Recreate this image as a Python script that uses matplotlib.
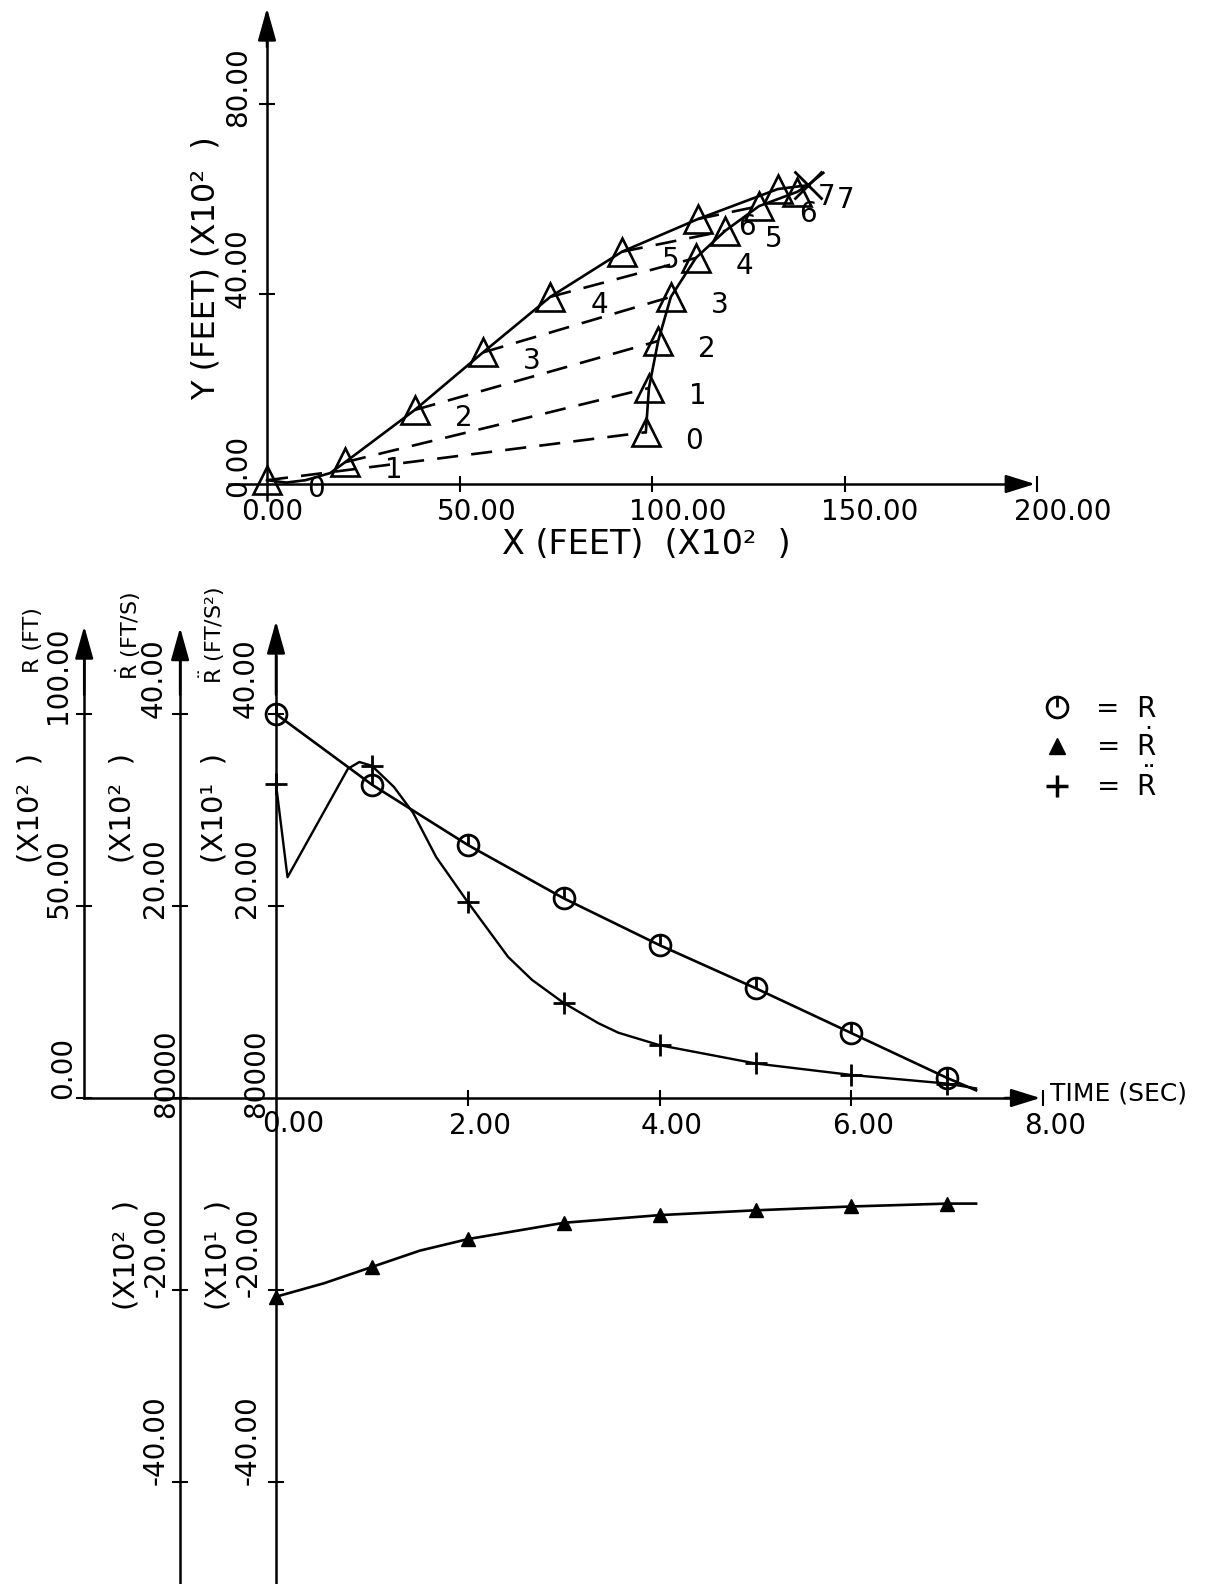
import matplotlib
matplotlib.use('Agg')
import matplotlib.pyplot as plt
from matplotlib.path import Path
from matplotlib.lines import Line2D

W, H = 1207, 1584
plt.rcParams['font.family'] = ['DejaVu Sans']
plt.rcParams['mathtext.fontset'] = 'dejavusans'

# ---------------- top chart data: X, Y in hundreds of feet ----------------
pursuer_x = [0.0, 20.3, 38.4, 56.1, 73.6, 92.2, 112.0, 132.7]
pursuer_y = [0.8, 4.6, 15.6, 27.7, 39.4, 48.9, 55.8, 62.1]
pursuer_path_x = [0.0, 5.0, 10.0, 16.4, 20.3, 38.4, 56.1, 73.6, 92.2, 112.0, 132.7, 140.5, 144.5]
pursuer_path_y = [0.8, 0.3, 0.8, 2.3, 4.6, 15.6, 27.7, 39.4, 48.9, 55.8, 62.1, 62.9, 65.5]
target_x = [98.4, 99.2, 101.6, 104.9, 111.4, 119.0, 127.8, 137.7]
target_y = [10.9, 20.2, 30.1, 39.4, 47.6, 53.3, 58.5, 61.5]
target_path_x = [98.4, 99.2, 101.6, 104.9, 111.4, 119.0, 127.8, 137.7, 140.5]
target_path_y = [10.9, 20.2, 30.1, 39.4, 47.6, 53.3, 58.5, 61.5, 62.9]
intercept_x = [140.5]
intercept_y = [62.9]
point_labels = ['0', '1', '2', '3', '4', '5', '6', '7']
top_xticks = [50, 100, 150, 200]
top_xticklabels = ['50.00', '100.00', '150.00', '200.00']
top_yticks = [40, 80]

# ---------------- bottom chart data ----------------
time = [0, 1, 2, 3, 4, 5, 6, 7]
range_r = [100.0, 81.6, 65.9, 52.0, 39.8, 28.6, 16.9, 5.2]          # R (X10^2 ft)
range_line_t = [0, 1, 2, 3, 4, 5, 6, 7, 7.3]
range_line_v = [100.0, 81.6, 65.9, 52.0, 39.8, 28.6, 16.9, 5.2, 2.0]
rdot = [-20.7, -17.6, -14.7, -13.0, -12.2, -11.7, -11.3, -11.0]      # Rdot (X10^2 ft/s)
rdot_line_t = [0, 0.5, 1, 1.5, 2, 3, 4, 5, 6, 7, 7.3]
rdot_line_v = [-20.7, -19.3, -17.6, -15.9, -14.7, -13.0, -12.2, -11.7, -11.3, -11.0, -11.0]
rddot = [32.7, 34.6, 20.4, 9.9, 5.5, 3.6, 2.4, 1.5]                  # Rddot (X10^1 ft/s^2)
rddot_line_t = [0, 0.12, 0.75, 0.87, 1, 1.23, 1.43, 1.67, 2, 2.42, 2.67, 3, 3.36, 3.57, 4, 5, 6, 7, 7.3]
rddot_line_v = [32.7, 23.0, 34.3, 35.0, 34.6, 32.4, 29.7, 25.1, 20.4, 14.7, 12.3, 9.9, 7.8, 6.8, 5.5,
                3.6, 2.4, 1.5, 1.0]
time_ticks = [2, 4, 6, 8]
time_ticklabels = ['2.00', '4.00', '6.00', '8.00']

fig = plt.figure(figsize=(W / 100, H / 100), dpi=100)
fig.patch.set_facecolor('white')

def fpos(x, y):
    return x / W, 1 - y / H

def ftext(x, y, s, **kw):
    fx, fy = fpos(x, y)
    kw.setdefault('ha', 'center')
    kw.setdefault('va', 'center')
    fig.text(fx, fy, s, **kw)

ALW = 1.8   # axis line width
DLW = 1.9   # data line width
TICKFS = 20
arrow_v = dict(arrowstyle='-|>,head_length=1.0,head_width=0.28', color='k', lw=ALW,
               mutation_scale=20, shrinkA=0, shrinkB=0)
arrow_h = dict(arrowstyle='-|>,head_length=0.9,head_width=0.28', color='k', lw=ALW,
               mutation_scale=20, shrinkA=0, shrinkB=0)

# ======================= TOP CHART =======================
# origin at pixel (267, 484); 3.85 px per X unit, 4.75 px per Y unit
x0, y0, sx, sy = 267, 484, 3.85, 4.75
xl = (-10, 200)
yl = ((y0 - 500) / sy, (y0 - 8) / sy)
left = x0 + xl[0] * sx
right = x0 + xl[1] * sx
ax_t = fig.add_axes([left / W, 1 - 500 / H, (right - left) / W, (500 - 8) / H])
ax_t.set_xlim(*xl)
ax_t.set_ylim(*yl)
ax_t.patch.set_alpha(0)
for s in ['top', 'right']:
    ax_t.spines[s].set_visible(False)
ax_t.spines['left'].set_position(('data', 0))
ax_t.spines['bottom'].set_position(('data', 0))
ax_t.spines['left'].set_bounds(yl[0], 95)
ax_t.spines['bottom'].set_bounds(xl[0], 195)
for s in ['left', 'bottom']:
    ax_t.spines[s].set_linewidth(ALW)
ax_t.set_xticks(top_xticks)
ax_t.set_yticks(top_yticks)
ax_t.tick_params(direction='inout', length=11, width=1.5, labelbottom=False, labelleft=False)
ax_t.annotate('', xy=(0, yl[1]), xytext=(0, 92), arrowprops=arrow_v, annotation_clip=False)
ax_t.annotate('', xy=(199.5, 0), xytext=(192, 0), arrowprops=arrow_h, annotation_clip=False)

# line-of-sight dashed lines
for i in range(7):
    ax_t.plot([pursuer_x[i], target_x[i]], [pursuer_y[i], target_y[i]], color='k',
              lw=1.9, ls=(0, (8, 5)), clip_on=False)
ax_t.plot(pursuer_path_x, pursuer_path_y, color='k', lw=DLW, clip_on=False)
ax_t.plot(target_path_x, target_path_y, color='k', lw=DLW, clip_on=False)
ax_t.plot(pursuer_x, pursuer_y, ls='none', marker='^', ms=20, mfc='none', mec='k', mew=1.9, clip_on=False)
ax_t.plot(target_x, target_y, ls='none', marker='^', ms=20, mfc='none', mec='k', mew=1.9, clip_on=False)
ax_t.plot(intercept_x, intercept_y, ls='none', marker='x', ms=20, mec='k', mew=2.0, clip_on=False)
for i, lab in enumerate(point_labels):
    ax_t.annotate(lab, (pursuer_x[i], pursuer_y[i]), xytext=(35, -6), textcoords='offset points',
                  ha='center', va='center', fontsize=TICKFS, annotation_clip=False)
    ax_t.annotate(lab, (target_x[i], target_y[i]), xytext=(35, -6), textcoords='offset points',
                  ha='center', va='center', fontsize=TICKFS, annotation_clip=False)

# tick labels (top)
ftext(272, 512, '0.00', fontsize=TICKFS)
for xv, lab in zip(top_xticks, top_xticklabels):
    ftext(x0 + xv * sx - 23, 512, lab, fontsize=TICKFS, ha='left')
ftext(238, 87, '80.00', fontsize=TICKFS, rotation=90)
ftext(238, 268, '40.00', fontsize=TICKFS, rotation=90)
ftext(238, 466, '0.00', fontsize=TICKFS, rotation=90)
ftext(206, 268, 'Y (FEET) (X10²  )', fontsize=23, rotation=90)
ftext(646, 545, 'X (FEET)  (X10²  )', fontsize=24)

# ======================= BOTTOM CHART =======================
t0px, tsc = 276, 95.9
ybase = 1098
sv, sr = 9.6, 3.84
top_px = 621
txl = (-2, 8)
bl = t0px + txl[0] * tsc
br = t0px + txl[1] * tsc
rect = [bl / W, 0, (br - bl) / W, (H - top_px) / H]
yl_v = ((ybase - H) / sv, (ybase - top_px) / sv)
yl_r = ((ybase - H) / sr, (ybase - top_px) / sr)

ax_b = fig.add_axes(rect)   # Rddot axis + time axis
ax_v = fig.add_axes(rect)   # Rdot axis
ax_r = fig.add_axes(rect)   # R axis
for a in (ax_b, ax_v, ax_r):
    a.set_xlim(*txl)
    a.patch.set_alpha(0)
    for s in ['top', 'right']:
        a.spines[s].set_visible(False)
    a.spines['left'].set_linewidth(ALW)
    a.spines['bottom'].set_linewidth(ALW)
ax_b.set_ylim(*yl_v)
ax_v.set_ylim(*yl_v)
ax_r.set_ylim(*yl_r)

ax_b.spines['left'].set_position(('data', 0))
ax_b.spines['bottom'].set_position(('data', 0))
ax_b.spines['bottom'].set_bounds(txl[0], 7.8)
ax_b.spines['left'].set_bounds(yl_v[0], 46)
ax_b.set_xticks(time_ticks)
ax_b.set_yticks([-40, -20, 20, 40])
ax_b.tick_params(direction='inout', length=11, width=1.5, labelbottom=False, labelleft=False)

ax_v.spines['bottom'].set_visible(False)
ax_v.spines['left'].set_position(('data', -1))
ax_v.spines['left'].set_bounds(yl_v[0], 45.5)
ax_v.set_xticks([])
ax_v.set_yticks([-40, -20, 0, 20, 40])
ax_v.tick_params(direction='inout', length=11, width=1.5, labelleft=False)

ax_r.spines['bottom'].set_visible(False)
ax_r.spines['left'].set_position(('data', -2))
ax_r.spines['left'].set_bounds(0, 114)
ax_r.set_xticks([])
ax_r.set_yticks([0, 50, 100])
ax_r.tick_params(direction='inout', length=11, width=1.5, labelleft=False)

ax_b.annotate('', xy=(0, yl_v[1]), xytext=(0, 42), arrowprops=arrow_v, annotation_clip=False)
ax_v.annotate('', xy=(-1, 49.0), xytext=(-1, 42), arrowprops=arrow_v, annotation_clip=False)
ax_r.annotate('', xy=(-2, 122.9), xytext=(-2, 105), arrowprops=arrow_v, annotation_clip=False)
ax_b.annotate('', xy=(7.97, 0), xytext=(7.6, 0), arrowprops=arrow_h, annotation_clip=False)

# data
circ_marker = Path.make_compound_path(Path.unit_circle(),
                                      Path([(0, 0), (0, 1)], [Path.MOVETO, Path.LINETO]))
ax_r.plot(range_line_t, range_line_v, color='k', lw=DLW, clip_on=False)
ax_r.plot(time, range_r, ls='none', marker=circ_marker, ms=15, mfc='none', mec='k', mew=2.0, clip_on=False)
ax_v.plot(rdot_line_t, rdot_line_v, color='k', lw=DLW, clip_on=False)
ax_v.plot(time, rdot, ls='none', marker='^', ms=10, color='k', clip_on=False)
ax_b.plot(rddot_line_t, rddot_line_v, color='k', lw=DLW * 0.9, clip_on=False)
ax_b.plot(time, rddot, ls='none', marker='+', ms=16, mew=2.0, color='k', clip_on=False)

# bottom tick labels
ftext(293, 1124, '0.00', fontsize=TICKFS)
for tv, lab in zip(time_ticks, time_ticklabels):
    ftext(t0px + tv * tsc + 12, 1126, lab, fontsize=TICKFS)
ftext(1050, 1094, 'TIME (SEC)', fontsize=18, ha='left')

# R axis labels
ftext(33, 640, 'R (FT)', fontsize=16, rotation=90)
ftext(58, 675, '100.00', fontsize=TICKFS, rotation=90)
ftext(31, 808, '(X10²  )', fontsize=21, rotation=90)
ftext(59, 878, '50.00', fontsize=TICKFS, rotation=90)
ftext(63, 1068, '0.00', fontsize=TICKFS, rotation=90)
# Rdot axis labels
ftext(128, 636, r'$\dot{\mathrm{R}}$ (FT/S)', fontsize=16, rotation=90)
ftext(154, 678, '40.00', fontsize=TICKFS, rotation=90)
ftext(123, 808, '(X10²  )', fontsize=21, rotation=90)
ftext(155, 878, '20.00', fontsize=TICKFS, rotation=90)
ftext(166, 1074, '80000', fontsize=TICKFS, rotation=90)
ftext(126, 1255, '(X10²  )', fontsize=21, rotation=90)
ftext(157, 1252, '-20.00', fontsize=TICKFS, rotation=90)
ftext(156, 1440, '-40.00', fontsize=TICKFS, rotation=90)
# Rddot axis labels
ftext(212, 636, r'$\ddot{\mathrm{R}}$ (FT/S²)', fontsize=16, rotation=90)
ftext(246, 678, '40.00', fontsize=TICKFS, rotation=90)
ftext(215, 808, '(X10¹  )', fontsize=21, rotation=90)
ftext(247, 878, '20.00', fontsize=TICKFS, rotation=90)
ftext(256, 1074, '80000', fontsize=TICKFS, rotation=90)
ftext(218, 1255, '(X10¹  )', fontsize=21, rotation=90)
ftext(249, 1252, '-20.00', fontsize=TICKFS, rotation=90)
ftext(248, 1440, '-40.00', fontsize=TICKFS, rotation=90)

# legend
handles = [Line2D([], [], ls='none', marker=circ_marker, ms=15, mfc='none', mec='k', mew=2.0),
           Line2D([], [], ls='none', marker='^', ms=11, color='k'),
           Line2D([], [], ls='none', marker='+', ms=16, mew=2.5, color='k')]
labels = ['=  R', r'=  $\dot{\mathrm{R}}$', r'=  $\ddot{\mathrm{R}}$']
lx, ly = fpos(1043, 695)
ax_b.legend(handles, labels, loc='upper left', bbox_to_anchor=(lx, ly), bbox_transform=fig.transFigure,
            frameon=False, fontsize=20, handlelength=1.0, handletextpad=0.9, labelspacing=0.2,
            borderpad=0, borderaxespad=0)

fig.savefig('out.png', dpi=100, facecolor='white')
